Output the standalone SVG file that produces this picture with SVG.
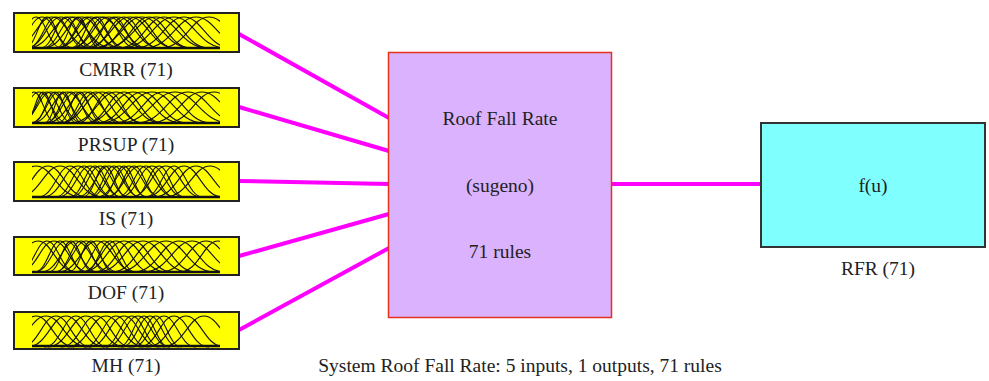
<svg xmlns="http://www.w3.org/2000/svg" xmlns:xlink="http://www.w3.org/1999/xlink" width="989" height="381" viewBox="0 0 989 381">
<style>
.t{font-family:"Liberation Serif","Times New Roman",serif;font-size:19.5px;fill:#222;text-anchor:middle}
.inbox{fill:#ffff00;stroke:#222;stroke-width:2}
#bell{fill:none;stroke:#111;stroke-width:1.1;vector-effect:non-scaling-stroke}
.base{stroke:#111;stroke-width:2.5}
.conn{stroke:#ff00ff;stroke-width:4;fill:none}
</style>
<defs>
<path id="bell" d="M-3.2,1 C-1.6,1 -1.2,0 0,0 C1.2,0 1.6,1 3.2,1"/>
<clipPath id="mfclip" clipPathUnits="userSpaceOnUse"><rect x="18" y="0" width="188" height="39"/></clipPath>
</defs>
<g id="connectors">
<line class="conn" x1="239" y1="34" x2="389" y2="118"/>
<line class="conn" x1="239" y1="107" x2="389" y2="151"/>
<line class="conn" x1="239" y1="181" x2="389" y2="184"/>
<line class="conn" x1="239" y1="256" x2="389" y2="214"/>
<line class="conn" x1="239" y1="330" x2="389" y2="248"/>
<line class="conn" x1="612" y1="184" x2="761" y2="184"/>
</g>
<g id="cmrr" transform="translate(14,13)">
<rect class="inbox" x="0" y="0" width="225" height="39"/>
<g clip-path="url(#mfclip)">
<g transform="translate(0,4)">
<use href="#bell" transform="translate(22,0) scale(8,31)"/>
<use href="#bell" transform="translate(28,0) scale(10,31)"/>
<use href="#bell" transform="translate(33,0) scale(7,31)"/>
<use href="#bell" transform="translate(38,0) scale(12,31)"/>
<use href="#bell" transform="translate(42,0) scale(9,31)"/>
<use href="#bell" transform="translate(47,0) scale(11,31)"/>
<use href="#bell" transform="translate(52,0) scale(8,31)"/>
<use href="#bell" transform="translate(56,0) scale(13,31)"/>
<use href="#bell" transform="translate(60,0) scale(10,31)"/>
<use href="#bell" transform="translate(64,0) scale(7,31)"/>
<use href="#bell" transform="translate(68,0) scale(12,31)"/>
<use href="#bell" transform="translate(73,0) scale(9,31)"/>
<use href="#bell" transform="translate(77,0) scale(11,31)"/>
<use href="#bell" transform="translate(82,0) scale(8,31)"/>
<use href="#bell" transform="translate(86,0) scale(14,31)"/>
<use href="#bell" transform="translate(90,0) scale(10,31)"/>
<use href="#bell" transform="translate(95,0) scale(12,31)"/>
<use href="#bell" transform="translate(100,0) scale(9,31)"/>
<use href="#bell" transform="translate(104,0) scale(13,31)"/>
<use href="#bell" transform="translate(110,0) scale(11,31)"/>
<use href="#bell" transform="translate(116,0) scale(14,31)"/>
<use href="#bell" transform="translate(122,0) scale(12,31)"/>
<use href="#bell" transform="translate(128,0) scale(15,31)"/>
<use href="#bell" transform="translate(135,0) scale(13,31)"/>
<use href="#bell" transform="translate(142,0) scale(16,31)"/>
<use href="#bell" transform="translate(150,0) scale(14,31)"/>
<use href="#bell" transform="translate(160,0) scale(16,31)"/>
<use href="#bell" transform="translate(170,0) scale(15,31)"/>
<use href="#bell" transform="translate(182,0) scale(16,31)"/>
<use href="#bell" transform="translate(195,0) scale(15,31)"/>
</g>
<line class="base" x1="18" y1="35" x2="206" y2="35"/>
</g>
<text class="t" x="112" y="63">CMRR (71)</text>
</g>
<g id="prsup" transform="translate(14,88)">
<rect class="inbox" x="0" y="0" width="225" height="39"/>
<g clip-path="url(#mfclip)">
<g transform="translate(0,4)">
<use href="#bell" transform="translate(20,0) scale(7,31)"/>
<use href="#bell" transform="translate(25,0) scale(9,31)"/>
<use href="#bell" transform="translate(29,0) scale(6,31)"/>
<use href="#bell" transform="translate(33,0) scale(8,31)"/>
<use href="#bell" transform="translate(37,0) scale(10,31)"/>
<use href="#bell" transform="translate(41,0) scale(7,31)"/>
<use href="#bell" transform="translate(45,0) scale(9,31)"/>
<use href="#bell" transform="translate(49,0) scale(6,31)"/>
<use href="#bell" transform="translate(53,0) scale(11,31)"/>
<use href="#bell" transform="translate(57,0) scale(8,31)"/>
<use href="#bell" transform="translate(62,0) scale(10,31)"/>
<use href="#bell" transform="translate(66,0) scale(7,31)"/>
<use href="#bell" transform="translate(71,0) scale(12,31)"/>
<use href="#bell" transform="translate(76,0) scale(9,31)"/>
<use href="#bell" transform="translate(82,0) scale(11,31)"/>
<use href="#bell" transform="translate(88,0) scale(13,31)"/>
<use href="#bell" transform="translate(95,0) scale(10,31)"/>
<use href="#bell" transform="translate(102,0) scale(14,31)"/>
<use href="#bell" transform="translate(110,0) scale(12,31)"/>
<use href="#bell" transform="translate(119,0) scale(15,31)"/>
<use href="#bell" transform="translate(128,0) scale(14,31)"/>
<use href="#bell" transform="translate(138,0) scale(16,31)"/>
<use href="#bell" transform="translate(149,0) scale(15,31)"/>
<use href="#bell" transform="translate(161,0) scale(17,31)"/>
<use href="#bell" transform="translate(174,0) scale(16,31)"/>
<use href="#bell" transform="translate(188,0) scale(16,31)"/>
<use href="#bell" transform="translate(200,0) scale(15,31)"/>
</g>
<line class="base" x1="18" y1="35" x2="206" y2="35"/>
</g>
<text class="t" x="112" y="63">PRSUP (71)</text>
</g>
<g id="is" transform="translate(14,162)">
<rect class="inbox" x="0" y="0" width="225" height="39"/>
<g clip-path="url(#mfclip)">
<g transform="translate(0,4)">
<use href="#bell" transform="translate(22,0) scale(14,31)"/>
<use href="#bell" transform="translate(34,0) scale(12,31)"/>
<use href="#bell" transform="translate(46,0) scale(13,31)"/>
<use href="#bell" transform="translate(56,0) scale(10,31)"/>
<use href="#bell" transform="translate(64,0) scale(11,31)"/>
<use href="#bell" transform="translate(70,0) scale(9,31)"/>
<use href="#bell" transform="translate(76,0) scale(10,31)"/>
<use href="#bell" transform="translate(81,0) scale(8,31)"/>
<use href="#bell" transform="translate(86,0) scale(9,31)"/>
<use href="#bell" transform="translate(91,0) scale(7,31)"/>
<use href="#bell" transform="translate(95,0) scale(10,31)"/>
<use href="#bell" transform="translate(100,0) scale(8,31)"/>
<use href="#bell" transform="translate(105,0) scale(9,31)"/>
<use href="#bell" transform="translate(110,0) scale(7,31)"/>
<use href="#bell" transform="translate(115,0) scale(10,31)"/>
<use href="#bell" transform="translate(120,0) scale(8,31)"/>
<use href="#bell" transform="translate(126,0) scale(11,31)"/>
<use href="#bell" transform="translate(132,0) scale(9,31)"/>
<use href="#bell" transform="translate(138,0) scale(10,31)"/>
<use href="#bell" transform="translate(145,0) scale(8,31)"/>
<use href="#bell" transform="translate(152,0) scale(11,31)"/>
<use href="#bell" transform="translate(160,0) scale(9,31)"/>
<use href="#bell" transform="translate(170,0) scale(12,31)"/>
<use href="#bell" transform="translate(182,0) scale(13,31)"/>
<use href="#bell" transform="translate(196,0) scale(14,31)"/>
</g>
<line class="base" x1="18" y1="35" x2="206" y2="35"/>
</g>
<text class="t" x="112" y="63">IS (71)</text>
</g>
<g id="dof" transform="translate(14,237)">
<rect class="inbox" x="0" y="0" width="225" height="38"/>
<g clip-path="url(#mfclip)">
<g transform="translate(0,4)">
<use href="#bell" transform="translate(24,0) scale(12,31)"/>
<use href="#bell" transform="translate(33,0) scale(9,31)"/>
<use href="#bell" transform="translate(40,0) scale(11,31)"/>
<use href="#bell" transform="translate(46,0) scale(8,31)"/>
<use href="#bell" transform="translate(52,0) scale(10,31)"/>
<use href="#bell" transform="translate(57,0) scale(7,31)"/>
<use href="#bell" transform="translate(62,0) scale(11,31)"/>
<use href="#bell" transform="translate(67,0) scale(8,31)"/>
<use href="#bell" transform="translate(72,0) scale(10,31)"/>
<use href="#bell" transform="translate(77,0) scale(7,31)"/>
<use href="#bell" transform="translate(83,0) scale(12,31)"/>
<use href="#bell" transform="translate(90,0) scale(9,31)"/>
<use href="#bell" transform="translate(96,0) scale(8,31)"/>
<use href="#bell" transform="translate(102,0) scale(11,31)"/>
<use href="#bell" transform="translate(110,0) scale(13,31)"/>
<use href="#bell" transform="translate(119,0) scale(12,31)"/>
<use href="#bell" transform="translate(129,0) scale(14,31)"/>
<use href="#bell" transform="translate(140,0) scale(13,31)"/>
<use href="#bell" transform="translate(152,0) scale(15,31)"/>
<use href="#bell" transform="translate(165,0) scale(14,31)"/>
<use href="#bell" transform="translate(178,0) scale(15,31)"/>
<use href="#bell" transform="translate(192,0) scale(14,31)"/>
<use href="#bell" transform="translate(204,0) scale(12,31)"/>
</g>
<line class="base" x1="18" y1="35" x2="206" y2="35"/>
</g>
<text class="t" x="112" y="62">DOF (71)</text>
</g>
<g id="mh" transform="translate(14,312)">
<rect class="inbox" x="0" y="0" width="225" height="37"/>
<g clip-path="url(#mfclip)">
<g transform="translate(0,4)">
<use href="#bell" transform="translate(22,0) scale(12,31)"/>
<use href="#bell" transform="translate(32,0) scale(13,31)"/>
<use href="#bell" transform="translate(42,0) scale(11,31)"/>
<use href="#bell" transform="translate(52,0) scale(12,31)"/>
<use href="#bell" transform="translate(62,0) scale(10,31)"/>
<use href="#bell" transform="translate(72,0) scale(12,31)"/>
<use href="#bell" transform="translate(82,0) scale(11,31)"/>
<use href="#bell" transform="translate(92,0) scale(12,31)"/>
<use href="#bell" transform="translate(102,0) scale(10,31)"/>
<use href="#bell" transform="translate(110,0) scale(11,31)"/>
<use href="#bell" transform="translate(118,0) scale(9,31)"/>
<use href="#bell" transform="translate(124,0) scale(10,31)"/>
<use href="#bell" transform="translate(130,0) scale(8,31)"/>
<use href="#bell" transform="translate(136,0) scale(9,31)"/>
<use href="#bell" transform="translate(142,0) scale(8,31)"/>
<use href="#bell" transform="translate(150,0) scale(10,31)"/>
<use href="#bell" transform="translate(160,0) scale(11,31)"/>
<use href="#bell" transform="translate(172,0) scale(12,31)"/>
<use href="#bell" transform="translate(190,0) scale(13,31)"/>
</g>
<line class="base" x1="18" y1="34" x2="206" y2="34"/>
</g>
<text class="t" x="112" y="60">MH (71)</text>
</g>
<g id="rules">
<rect x="388.5" y="52.5" width="223" height="265" fill="#dab2fe" stroke="#e4321f" stroke-width="1.5"/>
<text class="t" x="500" y="125">Roof Fall Rate</text>
<text class="t" x="500" y="192">(sugeno)</text>
<text class="t" x="500" y="258">71 rules</text>
</g>
<g id="rfr">
<rect x="761" y="123" width="224" height="124" fill="#80ffff" stroke="#333" stroke-width="2"/>
<text class="t" x="873" y="192">f(u)</text>
<text class="t" x="878" y="275">RFR (71)</text>
</g>
<text class="t" x="520" y="372">System Roof Fall Rate: 5 inputs, 1 outputs, 71 rules</text>
</svg>
